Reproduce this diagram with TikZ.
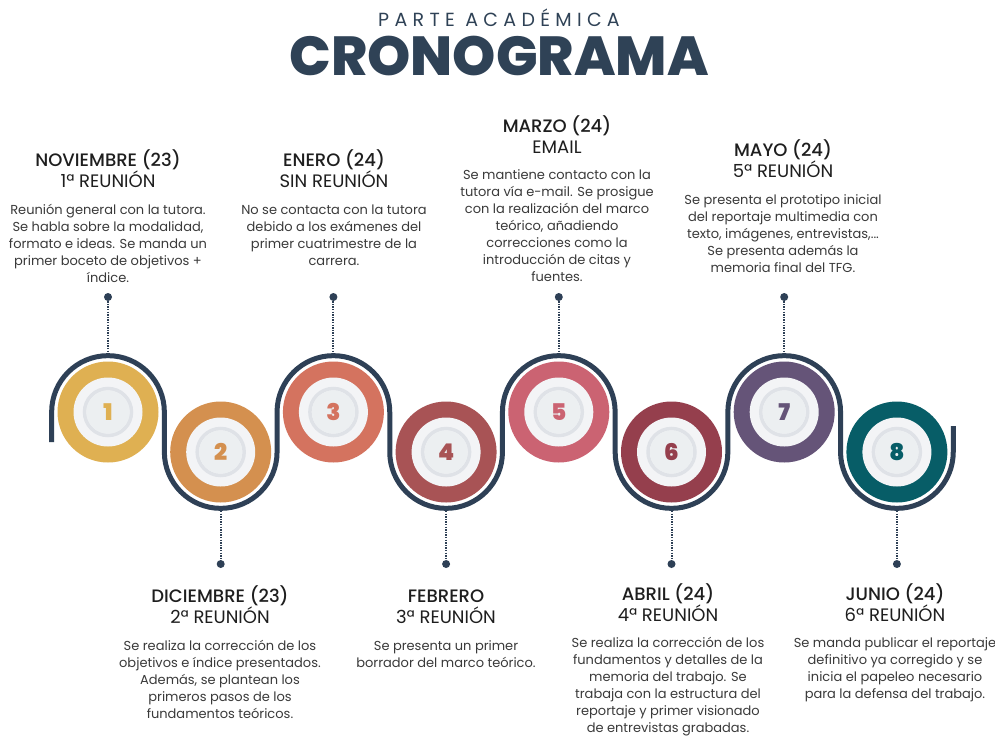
\documentclass[tikz,border=0pt]{standalone}
\usepackage{fontspec}
\setmainfont{Poppins}
\newfontfamily\pmed{Poppins}[UprightFont={* Medium}]
\newfontfamily\pxb{Poppins}[UprightFont={* ExtraBold}]
\newfontfamily\pblk{Poppins}[UprightFont={* Black}]
\definecolor{navy}{HTML}{2E4056}
\definecolor{titlec}{HTML}{2F4256}
\definecolor{hdrc}{HTML}{1E1E1E}
\definecolor{txtc}{HTML}{3A3A3A}
\definecolor{cA}{HTML}{DFB052}
\definecolor{cB}{HTML}{D4904F}
\definecolor{cC}{HTML}{D4735F}
\definecolor{cD}{HTML}{A85355}
\definecolor{cE}{HTML}{CB6372}
\definecolor{cF}{HTML}{953F4D}
\definecolor{cG}{HTML}{655478}
\definecolor{cH}{HTML}{075D67}
\definecolor{plate}{HTML}{F3F4F6}
\definecolor{plateshade}{HTML}{DFE2E7}
\definecolor{platein}{HTML}{ECEFF1}
\newcommand\topstr[1]{\rule{0pt}{#1}}
\tikzset{
  x=1pt,y=-1pt,
  hdr/.style={anchor=north,inner sep=0pt,align=center,text=hdrc,
    font=\fontsize{18}{21}\selectfont},
  desc/.style={anchor=north,inner sep=0pt,align=center,text=txtc,
    font=\fontsize{13}{17}\selectfont},
  ring/.style={circle,inner sep=0pt,minimum size=101pt},
  dotc/.style={circle,fill=navy,inner sep=0pt,minimum size=8pt},
  leader/.style={draw=navy,line width=2pt,dash pattern=on 1.3pt off 1.3pt},
  wave/.style={draw=navy,line width=5pt},
  numtxt/.style={font=\pblk\fontsize{23}{23}\selectfont}
}
\newcommand\stepcirc[5]{%
  \node[ring,fill=#4] (#1) at (#2,#3) {};
  \fill[plate] (#1.center) circle[radius=34.5pt];
  \draw[plateshade,line width=3.5pt] (#1.center) circle[radius=23.5pt];
  \fill[platein] (#1.center) circle[radius=21.5pt];
  \node[numtxt,text=#4] (#1n) at (#1.center) {#5};
}
\newcommand\hd[2]{\topstr{17pt}{\pmed #1}\\#2}
\begin{document}
\begin{tikzpicture}
\useasboundingbox (0,0) rectangle (995,736);
\fill[white] (0,0) rectangle (995,736);

% title
\node[inner sep=0pt,text=titlec,font=\fontsize{19}{19}\selectfont\addfontfeatures{LetterSpace=28}] (sub) at (499,18) {PARTE ACADÉMICA};
\node[inner sep=0pt,text=titlec,font=\pxb\fontsize{55}{55}\selectfont] (title) at (499,56) {CRONOGRAMA};

% wavy path
\def\rr{56.35}
\draw[wave] (51.65,442) -- (51.65,412)
  arc[start angle=180,end angle=0,radius=\rr pt] -- (164.35,452)
  arc[start angle=180,end angle=360,radius=\rr pt] -- (277.05,412)
  arc[start angle=180,end angle=0,radius=\rr pt] -- (389.75,452)
  arc[start angle=180,end angle=360,radius=\rr pt] -- (502.45,412)
  arc[start angle=180,end angle=0,radius=\rr pt] -- (615.15,452)
  arc[start angle=180,end angle=360,radius=\rr pt] -- (727.85,412)
  arc[start angle=180,end angle=0,radius=\rr pt] -- (840.55,452)
  arc[start angle=180,end angle=360,radius=\rr pt] -- (953.25,426);

% circles
\stepcirc{s1}{108}{412}{cA}{1}
\stepcirc{s2}{220.7}{452}{cB}{2}
\stepcirc{s3}{333.4}{412}{cC}{3}
\stepcirc{s4}{446.1}{452}{cD}{4}
\stepcirc{s5}{558.8}{412}{cE}{5}
\stepcirc{s6}{671.5}{452}{cF}{6}
\stepcirc{s7}{784.2}{412}{cG}{7}
\stepcirc{s8}{896.9}{452}{cH}{8}

% leader dots and lines
\foreach \n/\x in {1/108,3/333.4,5/558.8,7/784.2}{
  \node[dotc] (d\n) at (\x,297) {};
  \coordinate (p\n) at (\x,353);
  \draw[leader] (d\n) -- (p\n);
}
\foreach \n/\x in {2/220.7,4/446.1,6/671.5,8/896.9}{
  \node[dotc] (d\n) at (\x,564) {};
  \coordinate (p\n) at (\x,511);
  \draw[leader] (p\n) -- (d\n);
}

% texts top
\node[hdr] (h1) at (108,149) {\hd{NOVIEMBRE (23)}{1ª REUNIÓN}};
\node[desc] (t1) at (108,201.5) {\topstr{13pt}Reunión general con la tutora.\\Se habla sobre la modalidad,\\formato e ideas. Se manda un\\primer boceto de objetivos +\\índice.};

\node[hdr] (h3) at (334,149) {\hd{ENERO (24)}{SIN REUNIÓN}};
\node[desc] (t3) at (334,201.5) {\topstr{13pt}No se contacta con la tutora\\debido a los exámenes del\\primer cuatrimestre de la\\carrera.};

\node[hdr] (h5) at (557,115) {\hd{MARZO (24)}{EMAIL}};
\node[desc] (t5) at (557,166.5) {\topstr{13pt}Se mantiene contacto con la\\tutora vía e-mail. Se prosigue\\con la realización del marco\\teórico, añadiendo\\correcciones como la\\introducción de citas y\\fuentes.};

\node[hdr] (h7) at (783,139) {\hd{MAYO (24)}{5ª REUNIÓN}};
\node[desc] (t7) at (783,191.5) {\topstr{13pt}Se presenta el prototipo inicial\\del reportaje multimedia con\\texto, imágenes, entrevistas,...\\Se presenta además la\\memoria final del TFG.};

% texts bottom
\node[hdr] (h2) at (220,585) {\hd{DICIEMBRE (23)}{2ª REUNIÓN}};
\node[desc] (t2) at (220,637.5) {\topstr{13pt}Se realiza la corrección de los\\objetivos e índice presentados.\\Además, se plantean los\\primeros pasos de los\\fundamentos teóricos.};

\node[hdr] (h4) at (446,585) {\hd{FEBRERO}{3ª REUNIÓN}};
\node[desc] (t4) at (446,637.5) {\topstr{13pt}Se presenta un primer\\borrador del marco teórico.};

\node[hdr] (h6) at (668,583) {\hd{ABRIL (24)}{4ª REUNIÓN}};
\node[desc] (t6) at (668,634.5) {\topstr{13pt}Se realiza la corrección de los\\fundamentos y detalles de la\\memoria del trabajo. Se\\trabaja con la estructura del\\reportaje y primer visionado\\de entrevistas grabadas.};

\node[hdr] (h8) at (895,583) {\hd{JUNIO (24)}{6ª REUNIÓN}};
\node[desc] (t8) at (895,634.5) {\topstr{13pt}Se manda publicar el reportaje\\definitivo ya corregido y se\\inicia el papeleo necesario\\para la defensa del trabajo.};
\end{tikzpicture}
\end{document}
